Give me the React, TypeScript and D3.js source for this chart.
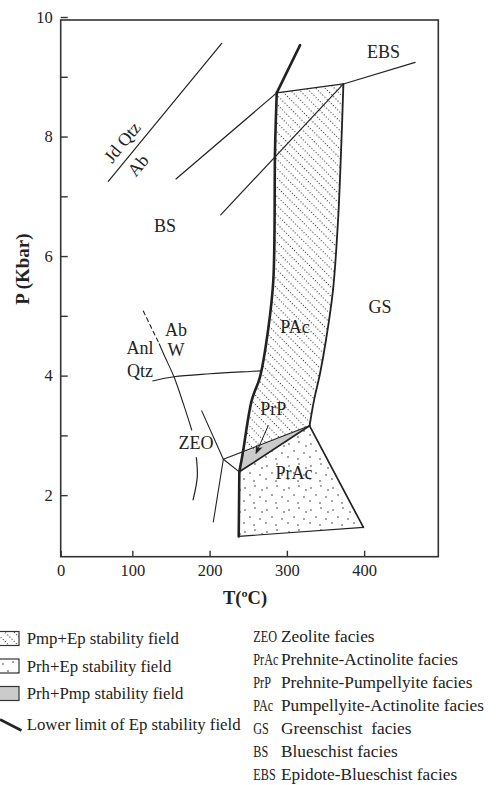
import React, { useEffect, useRef } from "react";
import * as d3 from "d3";

type Pt = [number, number];

// axis values
const xTicks = [0, 100, 200, 300, 400];
const yTicks = [2, 3, 4, 5, 6, 7, 8, 9, 10];
const yLabelled = [2, 4, 6, 8, 10];

// reaction / boundary lines, [T (°C), P (kbar)]
const jdQtzAb: Pt[] = [[68.9, 7.25], [215.7, 9.56]];
const bsLineA: Pt[] = [[156.5, 7.29], [286.9, 8.73]];
const bsLineB: Pt[] = [[214.4, 6.69], [373.2, 8.88]];
const ebsLine: Pt[] = [[286.9, 8.73], [373.2, 8.88], [466.0, 9.24]];
const epTop: Pt[] = [[317.1, 9.53], [286.9, 8.73]];
const epCurve: Pt[] = [
  [286.9, 8.73], [284.7, 7.77], [282.5, 5.6], [275.7, 4.76],
  [265.3, 3.98], [254.6, 3.59], [242.9, 2.7], [238.5, 2.39],
];
const epBottom: Pt[] = [[238.5, 2.39], [237.7, 1.31]];
const pmpEpRight: Pt[] = [
  [373.2, 8.88], [370.2, 7.77], [366.3, 6.61], [359.8, 5.44],
  [350.7, 4.6], [343.0, 4.04], [335.2, 3.59], [329.4, 3.16],
];
const prhPmp: Pt[] = [[242.9, 2.7], [329.4, 3.16], [238.5, 2.39]];
const prAc: Pt[] = [[238.5, 2.39], [329.4, 3.16], [399.1, 1.46], [237.7, 1.31]];
const zeoLeft: Pt[] = [[189.8, 3.41], [217.8, 2.6], [238.5, 2.39]];
const zeoUpper: Pt[] = [[217.8, 2.6], [329.4, 3.16]];
const zeoDown: Pt[] = [[217.8, 2.6], [204.8, 1.55]];
const zeoArc: Pt[] = [[182.8, 2.63], [184.1, 2.31], [178.6, 1.92]];
const anlDashed: Pt[] = [[114.2, 5.08], [134.9, 4.53]];
const anlSolid: Pt[] = [[134.9, 4.53], [142.3, 4.31], [153.9, 3.98], [166.0, 3.53], [176.9, 3.09]];
const qtzLine: Pt[] = [[126.4, 3.91], [153.9, 3.98], [200.6, 4.03], [252.4, 4.07], [266.0, 4.08]];
const prpArrow: Pt[] = [[276.1, 3.17], [260.1, 2.7]];

// field labels
const fieldLabels: { text: string; t: number; p: number }[] = [
  { text: "BS", t: 142.3, p: 6.5 },
  { text: "EBS", t: 425.0, p: 9.42 },
  { text: "GS", t: 420.7, p: 5.16 },
  { text: "PAc", t: 310.6, p: 4.82 },
  { text: "PrP", t: 282.5, p: 3.45 },
  { text: "PrAc", t: 309.3, p: 2.37 },
  { text: "ZEO", t: 182.4, p: 2.88 },
  { text: "Ab", t: 156.6, p: 4.76 },
  { text: "W", t: 156.6, p: 4.43 },
  { text: "Anl", t: 110.0, p: 4.46 },
  { text: "Qtz", t: 110.0, p: 4.09 },
];
const jdLabels: { text: string; t: number; p: number }[] = [
  { text: "Jd Qtz", t: 86.7, p: 7.91 },
  { text: "Ab", t: 107.3, p: 7.52 },
];

// legends
const fieldLegend = [
  "Pmp+Ep stability field",
  "Prh+Ep stability field",
  "Prh+Pmp stability field",
  "Lower limit of Ep stability field",
];
const faciesAbbr = ["ZEO", "PrAc", "PrP", "PAc", "GS", "BS", "EBS"];
const faciesNames = [
  "Zeolite facies",
  "Prehnite-Actinolite facies",
  "Prehnite-Pumpellyite facies",
  "Pumpellyite-Actinolite facies",
  "Greenschist  facies",
  "Blueschist facies",
  "Epidote-Blueschist facies",
];

const INK = "#222";
const FONT = "'Liberation Serif', 'Times New Roman', serif";

const App = () => {
  const svgRef = useRef<SVGSVGElement>(null);

  useEffect(() => {
    const width = 497;
    const height = 785;
    const frame = { left: 60.7, right: 438.3, top: 20, bottom: 556.7 };

    const x = d3.scaleLinear().domain([7.3, 496]).range([frame.left, frame.right]).clamp(true);
    const y = d3.scaleLinear().domain([0.97, 9.95]).range([frame.bottom, frame.top]);

    const svg = d3.select(svgRef.current);
    svg.selectAll("*").remove();
    svg.attr("width", width).attr("height", height);

    const defs = svg.append("defs");
    // dotted diagonal hatch (Pmp+Ep)
    const hatch = defs
      .append("pattern")
      .attr("id", "hatch")
      .attr("patternUnits", "userSpaceOnUse")
      .attr("width", 3)
      .attr("height", 6.5)
      .attr("patternTransform", "rotate(45)");
    hatch.append("circle").attr("cx", 1.5).attr("cy", 1.5).attr("r", 0.65).attr("fill", INK);

    // scattered dots (Prh+Ep)
    const dots = defs
      .append("pattern")
      .attr("id", "dots")
      .attr("patternUnits", "userSpaceOnUse")
      .attr("width", 22)
      .attr("height", 22);
    [[3, 4], [13, 2], [8, 11], [18, 13], [2, 17], [12, 19], [20, 6]].forEach(([cx, cy]) =>
      dots.append("circle").attr("cx", cx).attr("cy", cy).attr("r", 0.75).attr("fill", INK)
    );

    defs
      .append("marker")
      .attr("id", "arrow")
      .attr("viewBox", "0 0 10 10")
      .attr("refX", 9)
      .attr("refY", 5)
      .attr("markerWidth", 9)
      .attr("markerHeight", 9)
      .attr("markerUnits", "userSpaceOnUse")
      .attr("orient", "auto")
      .append("path")
      .attr("d", "M0,1 L10,5 L0,9 L3,5 Z")
      .attr("fill", INK);

    const lin = d3.line<Pt>().x((d) => x(d[0])).y((d) => y(d[1]));
    const smooth = d3
      .line<Pt>()
      .x((d) => x(d[0]))
      .y((d) => y(d[1]))
      .curve(d3.curveCatmullRom);

    // fills
    const pmpEpPoly = [...pmpEpRight, ...epCurve.slice(0, -1).reverse()];
    svg.append("path").attr("d", lin(pmpEpPoly) + "Z").attr("fill", "url(#hatch)");
    svg.append("path").attr("d", lin(prAc) + "Z").attr("fill", "url(#dots)");
    svg.append("path").attr("d", lin(prhPmp) + "Z").attr("fill", "#cbcbcb");

    const draw = (pts: Pt[], w: number, curved = false, dash?: string) =>
      svg
        .append("path")
        .attr("d", (curved ? smooth : lin)(pts))
        .attr("fill", "none")
        .attr("stroke", INK)
        .attr("stroke-width", w)
        .attr("stroke-linecap", "round")
        .attr("stroke-linejoin", "round")
        .attr("stroke-dasharray", dash ?? null);

    draw(jdQtzAb, 1.2);
    draw(bsLineA, 1.2);
    draw(bsLineB, 1.2);
    draw(ebsLine, 1.2);
    draw(pmpEpRight, 1.8, true);
    draw(zeoLeft, 1.1);
    draw(zeoUpper, 1.1);
    draw([prhPmp[1], prhPmp[2]], 1.7);
    draw(zeoDown, 1.1);
    draw(zeoArc, 1.2, true);
    draw(anlDashed, 1.1, false, "4,3.5");
    draw(anlSolid, 1.1, true);
    draw(qtzLine, 1.1, true);
    draw([prAc[1], prAc[2]], 1.7);
    draw([prAc[2], prAc[3]], 1.1);
    draw(epTop, 2.6);
    draw(epCurve, 2.6, true);
    draw(epBottom, 2.6);

    svg
      .append("path")
      .attr("d", lin(prpArrow))
      .attr("stroke", INK)
      .attr("stroke-width", 1)
      .attr("fill", "none")
      .attr("marker-end", "url(#arrow)");

    // frame
    svg
      .append("rect")
      .attr("x", frame.left)
      .attr("y", frame.top)
      .attr("width", frame.right - frame.left)
      .attr("height", frame.bottom - frame.top)
      .attr("fill", "none")
      .attr("stroke", "#333")
      .attr("stroke-width", 1.6);

    // x axis: inward ticks
    const xAxis = svg
      .append("g")
      .attr("transform", `translate(0,${frame.bottom})`)
      .call(d3.axisBottom(x).tickValues(xTicks).tickSizeInner(-6).tickSizeOuter(0).tickPadding(8));
    xAxis.select(".domain").remove();
    xAxis.selectAll("line").attr("stroke", "#333").attr("stroke-width", 1.4);
    xAxis
      .selectAll("text")
      .attr("font-family", FONT)
      .attr("font-size", 16.5)
      .attr("fill", INK);

    // y axis: inward ticks, labels on even values
    const yAxis = svg
      .append("g")
      .attr("transform", `translate(${frame.left},0)`)
      .call(
        d3
          .axisLeft(y)
          .tickValues(yTicks)
          .tickSizeInner(-7)
          .tickSizeOuter(0)
          .tickPadding(8)
          .tickFormat((d) => (yLabelled.includes(+d) ? String(d) : ""))
      );
    yAxis.select(".domain").remove();
    yAxis.selectAll("line").attr("stroke", "#333").attr("stroke-width", 1.4);
    yAxis
      .selectAll("text")
      .attr("font-family", FONT)
      .attr("font-size", 16.5)
      .attr("fill", INK);

    // axis titles
    svg
      .append("text")
      .attr("x", 245)
      .attr("y", 604)
      .attr("text-anchor", "middle")
      .attr("font-family", FONT)
      .attr("font-weight", "bold")
      .attr("font-size", 18.5)
      .attr("fill", INK)
      .text("T(ºC)");
    svg
      .append("text")
      .attr("transform", "translate(29,269) rotate(-90)")
      .attr("text-anchor", "middle")
      .attr("font-family", FONT)
      .attr("font-weight", "bold")
      .attr("font-size", 19)
      .attr("fill", INK)
      .text("P (Kbar)");

    // field labels
    svg
      .append("g")
      .selectAll("text")
      .data(fieldLabels)
      .join("text")
      .attr("x", (d) => x(d.t))
      .attr("y", (d) => y(d.p))
      .attr("dy", "0.35em")
      .attr("text-anchor", "middle")
      .attr("font-family", FONT)
      .attr("font-size", 18)
      .attr("fill", INK)
      .text((d) => d.text);

    svg
      .append("g")
      .selectAll("text")
      .data(jdLabels)
      .join("text")
      .attr("transform", (d) => `translate(${x(d.t)},${y(d.p)}) rotate(-50.5)`)
      .attr("dy", "0.35em")
      .attr("text-anchor", "middle")
      .attr("font-family", FONT)
      .attr("font-size", 18)
      .attr("fill", INK)
      .text((d) => d.text);

    // left legend
    const legL = svg.append("g");
    const boxFills = ["url(#hatch)", "url(#dots)", "#cbcbcb"];
    const rowY = [638.5, 666, 693.5, 724.5];
    boxFills.forEach((f, i) => {
      legL
        .append("rect")
        .attr("x", -4)
        .attr("y", rowY[i] - 7)
        .attr("width", 23)
        .attr("height", 14)
        .attr("fill", f === "#cbcbcb" ? f : "#fff");
      if (f !== "#cbcbcb")
        legL
          .append("rect")
          .attr("x", -4)
          .attr("y", rowY[i] - 7)
          .attr("width", 23)
          .attr("height", 14)
          .attr("fill", f);
      legL
        .append("rect")
        .attr("x", -4)
        .attr("y", rowY[i] - 7)
        .attr("width", 23)
        .attr("height", 14)
        .attr("fill", "none")
        .attr("stroke", "#333")
        .attr("stroke-width", 1.2);
    });
    legL
      .append("line")
      .attr("x1", 0)
      .attr("y1", 719.5)
      .attr("x2", 21.5)
      .attr("y2", 730.5)
      .attr("stroke", INK)
      .attr("stroke-width", 2.6);
    legL
      .selectAll("text")
      .data(fieldLegend)
      .join("text")
      .attr("x", 26.7)
      .attr("y", (_, i) => rowY[i])
      .attr("dy", "0.35em")
      .attr("font-family", FONT)
      .attr("font-size", 16.8)
      .attr("fill", INK)
      .text((d) => d);

    // right legend: abbreviations set narrow, as in the reference
    const legR = svg.append("g");
    const rStep = 23.05;
    const abbrX = 253.3;
    legR
      .selectAll("text.abbr")
      .data(faciesAbbr)
      .join("text")
      .attr("class", "abbr")
      .attr("x", abbrX)
      .attr("y", (_, i) => 636 + i * rStep)
      .attr("dy", "0.35em")
      .attr("font-family", FONT)
      .attr("font-size", 16.5)
      .attr("fill", INK)
      .attr("transform", `translate(${abbrX},0) scale(0.74,1) translate(${-abbrX},0)`)
      .text((d) => d);
    legR
      .selectAll("text.name")
      .data(faciesNames)
      .join("text")
      .attr("class", "name")
      .attr("x", 281)
      .attr("y", (_, i) => 636 + i * rStep)
      .attr("dy", "0.35em")
      .attr("font-family", FONT)
      .attr("font-size", 17.3)
      .attr("fill", INK)
      .style("white-space", "pre")
      .text((d) => d);
  }, []);

  return (
    <svg
      ref={svgRef}
      style={{ position: "absolute", left: 0, top: 0, background: "#fff" }}
    ></svg>
  );
};

export default App;
